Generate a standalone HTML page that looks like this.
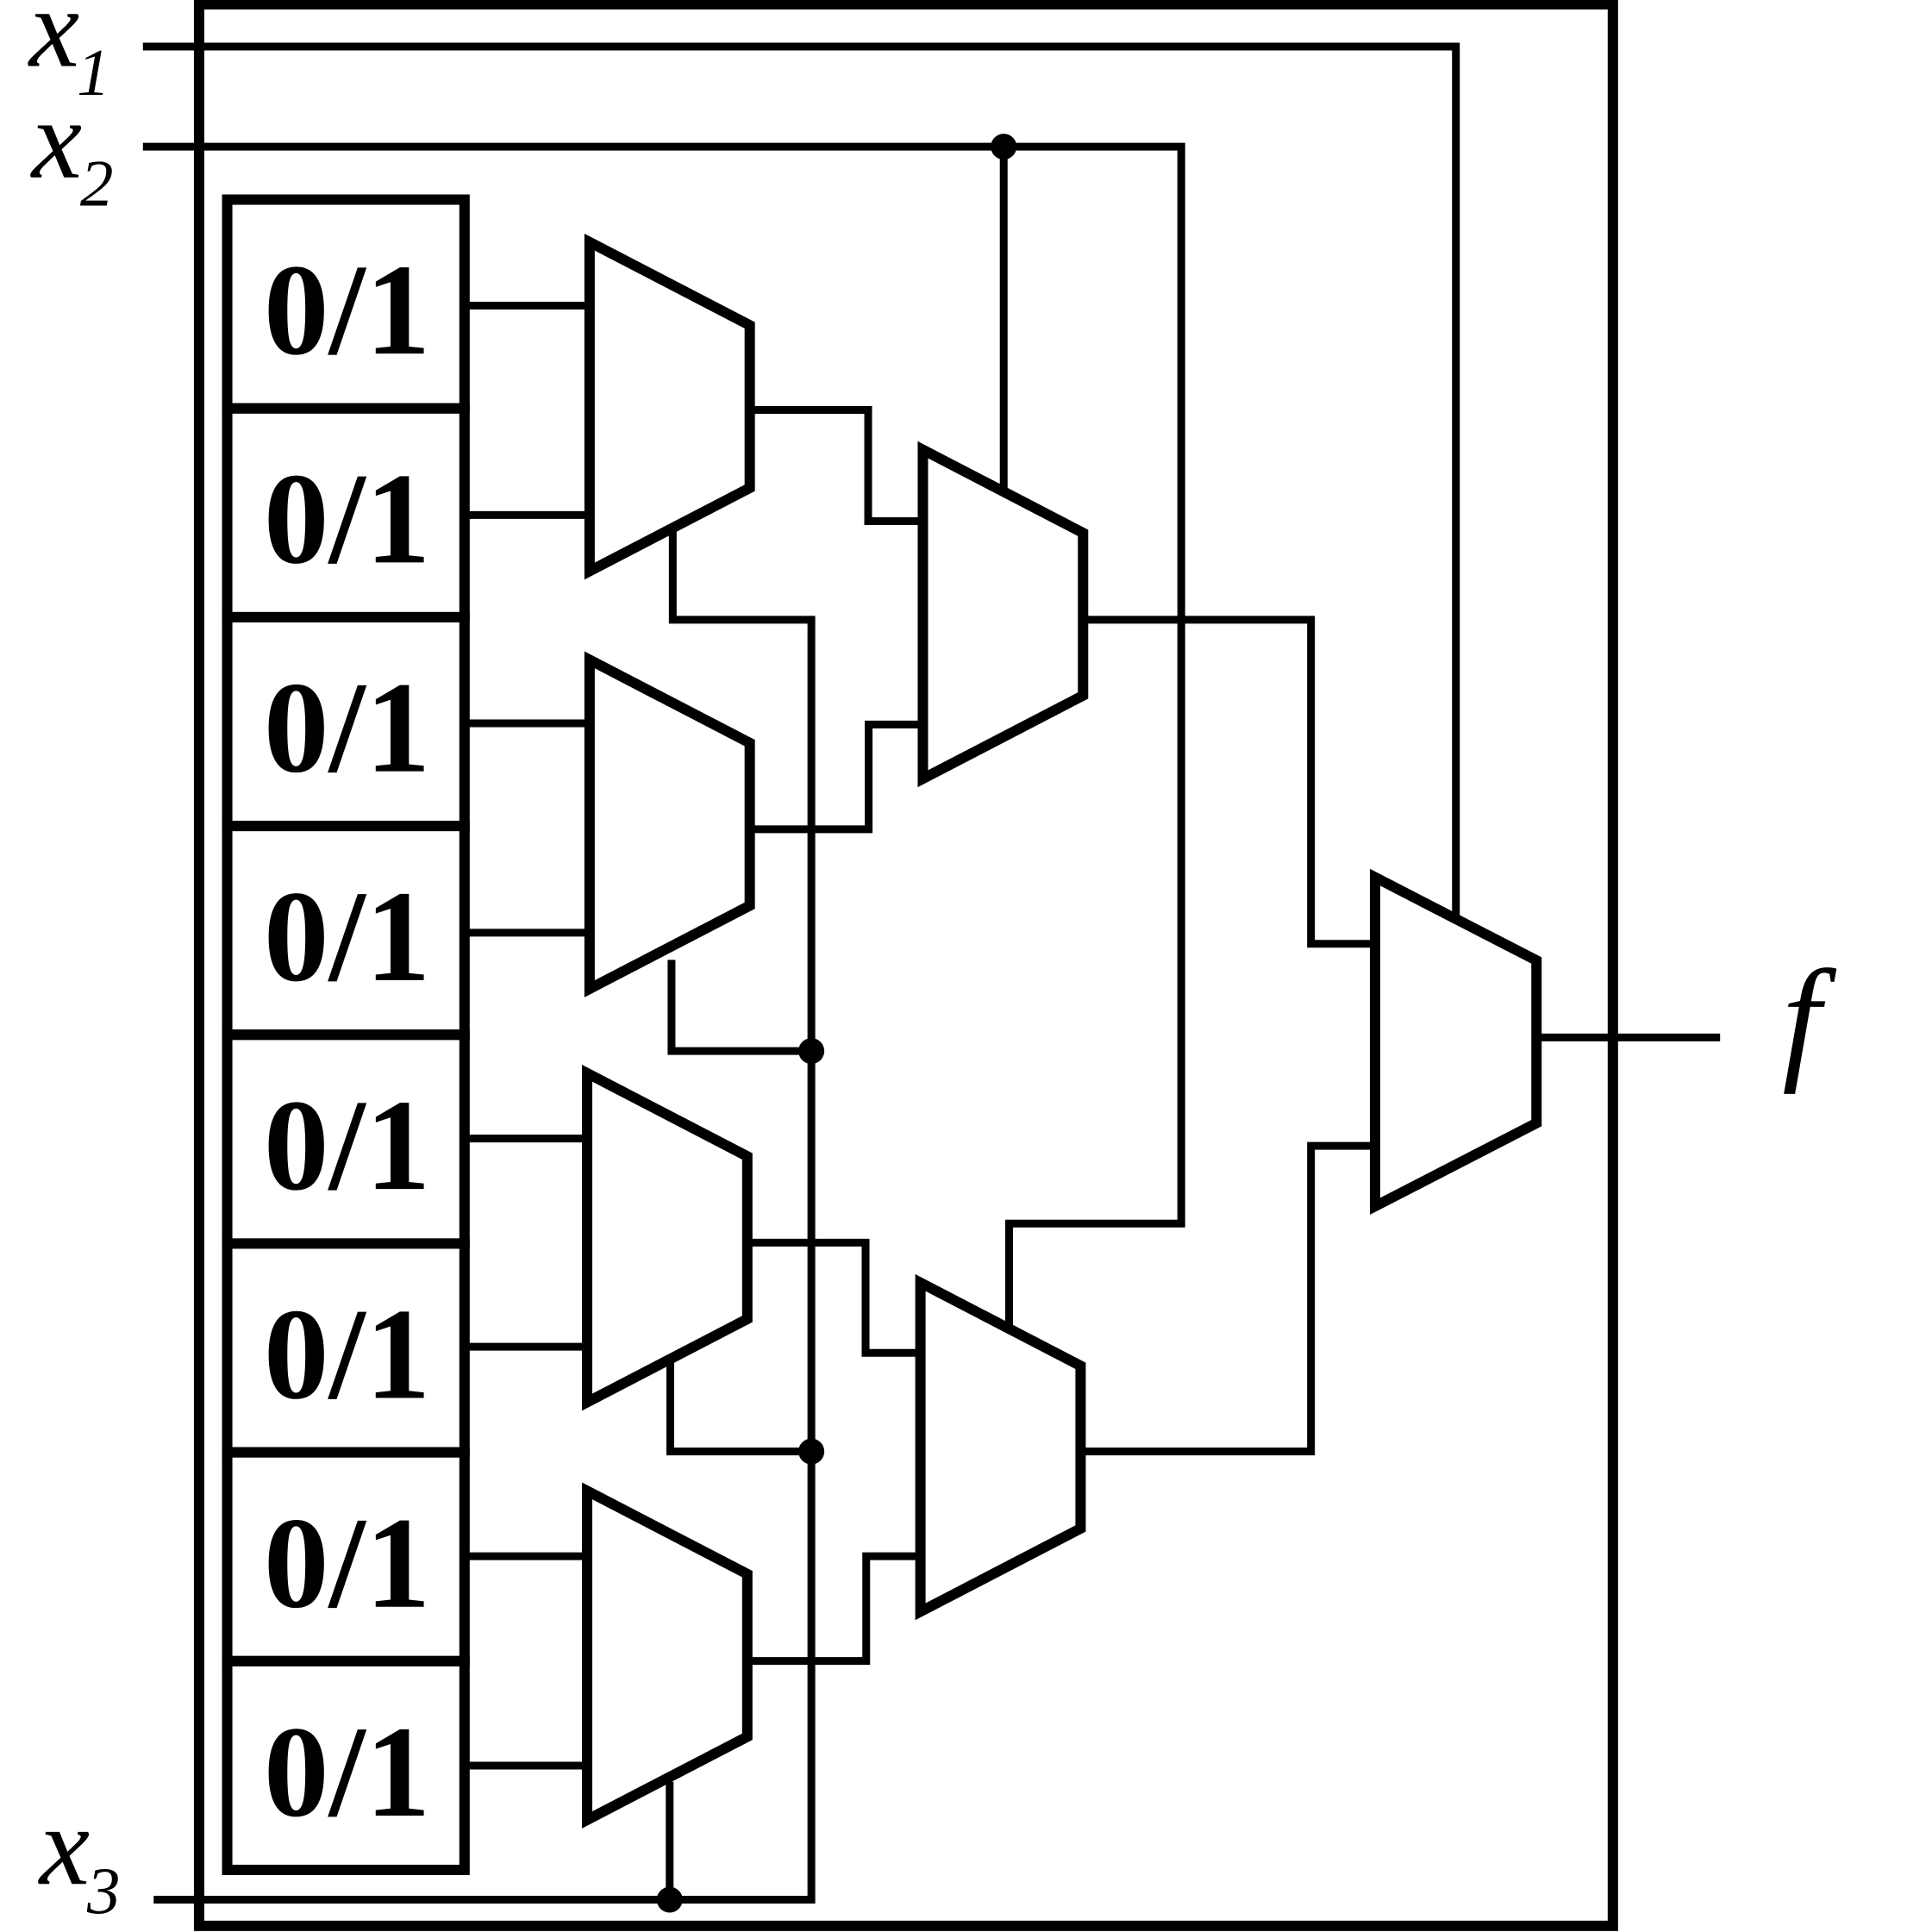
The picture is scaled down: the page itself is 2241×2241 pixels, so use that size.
<!DOCTYPE html>
<html>
<head>
<meta charset="utf-8">
<style>
  html, body { margin: 0; padding: 0; background: #fff; }
  svg { display: block; }
</style>
</head>
<body>
<svg width="2241" height="2241" viewBox="0 0 1568 1568" xmlns="http://www.w3.org/2000/svg">
  <rect x="0" y="0" width="1568" height="1568" fill="#fff"/>

  <!-- thick outlines -->
  <g fill="none" stroke="#000" stroke-width="8.4" stroke-linejoin="miter">
    <rect x="161.6" y="3.5" width="1147.4" height="1559.5"/>
    <!-- memory cells -->
    <rect x="184.4" y="162" width="192.6" height="169.45"/>
    <rect x="184.4" y="331.45" width="192.6" height="169.45"/>
    <rect x="184.4" y="500.9" width="192.6" height="169.45"/>
    <rect x="184.4" y="670.35" width="192.6" height="169.45"/>
    <rect x="184.4" y="839.8" width="192.6" height="169.45"/>
    <rect x="184.4" y="1009.25" width="192.6" height="169.45"/>
    <rect x="184.4" y="1178.7" width="192.6" height="169.45"/>
    <rect x="184.4" y="1348.15" width="192.6" height="169.45"/>
    <!-- muxes -->
    <polygon points="478.5,196.5 608.5,264 608.5,396 478.5,463.5"/>
    <polygon points="478.5,535.5 608.5,603 608.5,735 478.5,802.5"/>
    <polygon points="476.5,871 606.5,938.5 606.5,1070.5 476.5,1138"/>
    <polygon points="476.5,1210 606.5,1277.5 606.5,1409.5 476.5,1477"/>
    <polygon points="749,365 879,432.5 879,564.5 749,632"/>
    <polygon points="747,1041 877,1108.5 877,1240.5 747,1308"/>
    <polygon points="1116,712 1247,779.5 1247,911.5 1116,979"/>
  </g>

  <!-- wires -->
  <g fill="none" stroke="#000" stroke-width="6.3" stroke-linejoin="miter" stroke-linecap="butt">
    <path d="M116 37.8 H1181.6 V746"/>
    <path d="M116 119 H958.7 V993 H819 V1078"/>
    <path d="M814.6 119 V398"/>
    <path d="M124.7 1541.8 H658.5 V503 H546 V428.5"/>
    <path d="M543.5 1541.8 V1446"/>
    <path d="M545 779 V853 H658.5"/>
    <path d="M544 1104 V1178 H658.5"/>
    <!-- inputs -->
    <path d="M377 248 H478.5"/>
    <path d="M377 418 H478.5"/>
    <path d="M377 587 H478.5"/>
    <path d="M377 757 H478.5"/>
    <path d="M377 924 H476.5"/>
    <path d="M377 1093 H476.5"/>
    <path d="M377 1263 H476.5"/>
    <path d="M377 1433 H476.5"/>
    <!-- level 1 outputs -->
    <path d="M608.5 332.7 H704.6 V423 H749"/>
    <path d="M608.5 673 H705 V588 H749"/>
    <path d="M606.5 1008.5 H702.5 V1098 H747"/>
    <path d="M606.5 1348 H703 V1263 H747"/>
    <!-- level 2 outputs -->
    <path d="M879 503 H1064 V766 H1116"/>
    <path d="M877 1178 H1064 V930 H1116"/>
    <!-- final output -->
    <path d="M1247 842 H1396"/>
  </g>

  <!-- junction dots -->
  <g fill="#000">
    <circle cx="814.6" cy="119" r="10.5"/>
    <circle cx="658.5" cy="853" r="10.5"/>
    <circle cx="658.5" cy="1178" r="10.5"/>
    <circle cx="543.5" cy="1541.8" r="10.5"/>
  </g>

  <!-- cell labels -->
  <g fill="#000" style="font-family: 'Liberation Serif', 'Times New Roman', Times, 'Nimbus Roman', 'Nimbus Roman No9 L', FreeSerif, serif; font-weight: bold; font-size: 106px;">
    <text x="214" y="287">0/1</text>
    <text x="214" y="456.5">0/1</text>
    <text x="214" y="626">0/1</text>
    <text x="214" y="795.5">0/1</text>
    <text x="214" y="965">0/1</text>
    <text x="214" y="1134.5">0/1</text>
    <text x="214" y="1304">0/1</text>
    <text x="214" y="1473.5">0/1</text>
  </g>

  <!-- variable labels -->
  <g fill="#000" style="font-family: 'Liberation Serif', 'Times New Roman', Times, 'Nimbus Roman', 'Nimbus Roman No9 L', FreeSerif, serif; font-style: italic;">
    <text x="23.7" y="53.6" font-size="92">x</text>
    <text x="62.4" y="77" font-size="54">1</text>
    <text x="25.7" y="144" font-size="92">x</text>
    <text x="65" y="167" font-size="54">2</text>
    <text x="32" y="1529" font-size="92">x</text>
    <text x="70.6" y="1552.5" font-size="54">3</text>
    <text x="1446.5" y="864" font-size="112">f</text>
  </g>
</svg>
</body>
</html>
